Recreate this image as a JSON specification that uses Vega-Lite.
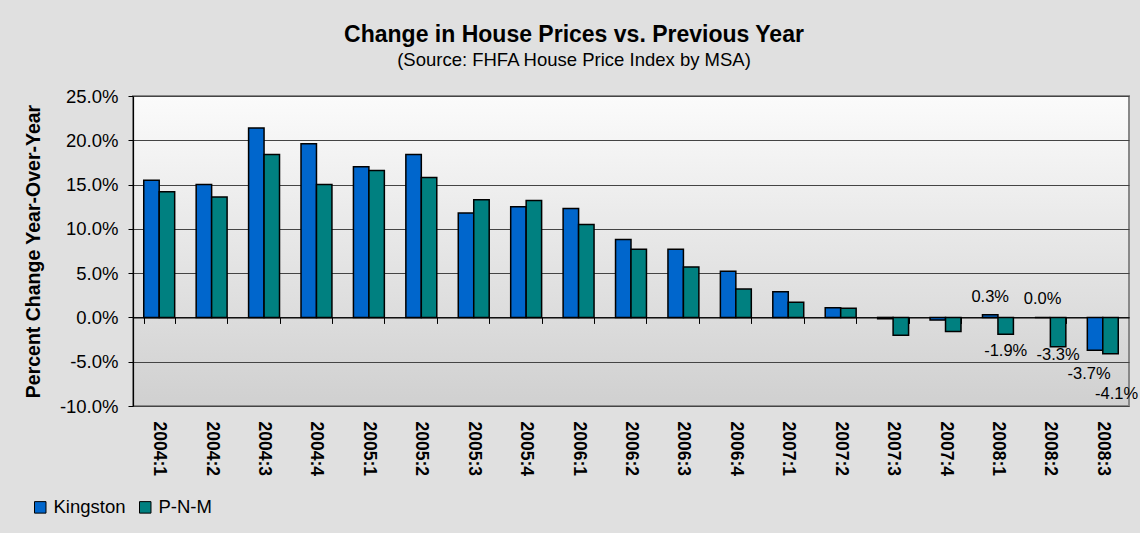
{
  "$schema": "https://vega.github.io/schema/vega-lite/v6.json",
  "width": 996,
  "height": 310,
  "autosize": "none",
  "padding": {"left": 133, "top": 96, "right": 11, "bottom": 127},
  "background": "#e0e0e0",
  "view": {
    "fill": {"gradient": "linear", "x1": 0, "y1": 0, "x2": 0, "y2": 1, "stops": [{"offset": 0, "color": "#fbfbfb"}, {"offset": 1, "color": "#d0d0d0"}]},
    "stroke": "#888888",
    "strokeWidth": 2
  },
  "title": {
    "text": "Change in House Prices vs. Previous Year",
    "subtitle": "(Source: FHFA House Price Index by MSA)",
    "anchor": "middle",
    "dx": -57,
    "font": "Liberation Sans",
    "fontSize": 23,
    "fontWeight": "bold",
    "color": "black",
    "subtitleFont": "Liberation Sans",
    "subtitleFontSize": 18.5,
    "subtitleColor": "black",
    "subtitlePadding": 4,
    "offset": 18
  },
  "data": {
    "values": [
      {"quarter": "2004:1", "series": "Kingston", "value": 0.155},
      {"quarter": "2004:2", "series": "Kingston", "value": 0.150},
      {"quarter": "2004:3", "series": "Kingston", "value": 0.214},
      {"quarter": "2004:4", "series": "Kingston", "value": 0.196},
      {"quarter": "2005:1", "series": "Kingston", "value": 0.170},
      {"quarter": "2005:2", "series": "Kingston", "value": 0.184},
      {"quarter": "2005:3", "series": "Kingston", "value": 0.118},
      {"quarter": "2005:4", "series": "Kingston", "value": 0.125},
      {"quarter": "2006:1", "series": "Kingston", "value": 0.123},
      {"quarter": "2006:2", "series": "Kingston", "value": 0.088},
      {"quarter": "2006:3", "series": "Kingston", "value": 0.077},
      {"quarter": "2006:4", "series": "Kingston", "value": 0.052},
      {"quarter": "2007:1", "series": "Kingston", "value": 0.029},
      {"quarter": "2007:2", "series": "Kingston", "value": 0.011},
      {"quarter": "2007:3", "series": "Kingston", "value": -0.0015},
      {"quarter": "2007:4", "series": "Kingston", "value": -0.003},
      {"quarter": "2008:1", "series": "Kingston", "value": 0.003},
      {"quarter": "2008:2", "series": "Kingston", "value": 0.0},
      {"quarter": "2008:3", "series": "Kingston", "value": -0.037},
      {"quarter": "2004:1", "series": "P-N-M", "value": 0.142},
      {"quarter": "2004:2", "series": "P-N-M", "value": 0.136},
      {"quarter": "2004:3", "series": "P-N-M", "value": 0.184},
      {"quarter": "2004:4", "series": "P-N-M", "value": 0.150},
      {"quarter": "2005:1", "series": "P-N-M", "value": 0.166},
      {"quarter": "2005:2", "series": "P-N-M", "value": 0.158},
      {"quarter": "2005:3", "series": "P-N-M", "value": 0.133},
      {"quarter": "2005:4", "series": "P-N-M", "value": 0.132},
      {"quarter": "2006:1", "series": "P-N-M", "value": 0.105},
      {"quarter": "2006:2", "series": "P-N-M", "value": 0.077},
      {"quarter": "2006:3", "series": "P-N-M", "value": 0.057},
      {"quarter": "2006:4", "series": "P-N-M", "value": 0.032},
      {"quarter": "2007:1", "series": "P-N-M", "value": 0.017},
      {"quarter": "2007:2", "series": "P-N-M", "value": 0.0105},
      {"quarter": "2007:3", "series": "P-N-M", "value": -0.020},
      {"quarter": "2007:4", "series": "P-N-M", "value": -0.016},
      {"quarter": "2008:1", "series": "P-N-M", "value": -0.019},
      {"quarter": "2008:2", "series": "P-N-M", "value": -0.033},
      {"quarter": "2008:3", "series": "P-N-M", "value": -0.041}
    ]
  },
  "encoding": {
    "x": {"field": "quarter", "type": "nominal", "sort": null, "scale": {"paddingInner": 0.41, "paddingOuter": 0.205}},
    "xOffset": {"field": "series", "type": "nominal", "sort": ["Kingston", "P-N-M"], "scale": {"paddingInner": 0, "paddingOuter": 0}},
    "y": {"field": "value", "type": "quantitative", "scale": {"domain": [-0.10, 0.25], "nice": false, "zero": false}}
  },
  "layer": [
    {
      "mark": {"type": "bar", "stroke": "black", "strokeWidth": 1.5},
      "encoding": {
        "x": {"field": "quarter", "type": "nominal", "sort": null,
          "axis": {"orient": "bottom", "title": null, "domain": false, "ticks": false, "grid": false,
            "labelAngle": 90, "labelAlign": "left", "labelBaseline": "middle", "labelPadding": 15,
            "labelFont": "Liberation Sans", "labelFontSize": 17.5, "labelFontWeight": "bold", "labelColor": "black"}},
        "y": {"field": "value", "type": "quantitative",
          "axis": {"title": "Percent Change Year-Over-Year", "values": [-0.10, -0.05, 0, 0.05, 0.10, 0.15, 0.20, 0.25],
            "format": ".1%", "labelFont": "Liberation Sans", "labelFontSize": 18.5, "labelColor": "black", "labelPadding": 10,
            "tickSize": 5, "tickColor": "black", "domainColor": "black", "domainWidth": 1.2,
            "grid": true, "gridColor": "#444444", "gridWidth": 1,
            "titleFont": "Liberation Sans", "titleFontSize": 19.5, "titleFontWeight": "bold", "titleColor": "black", "titlePadding": 16}},
        "color": {"field": "series", "type": "nominal", "sort": ["Kingston", "P-N-M"],
          "scale": {"domain": ["Kingston", "P-N-M"], "range": ["#0066CC", "#008080"]},
          "legend": {"orient": "none", "legendX": -102, "legendY": 402, "direction": "horizontal", "title": null,
            "symbolType": "square", "symbolSize": 132, "symbolStrokeColor": "black", "symbolStrokeWidth": 1, "symbolOpacity": 1,
            "labelFont": "Liberation Sans", "labelFontSize": 18.5, "labelColor": "black", "labelOffset": 4, "columnPadding": 10}}
      }
    },
    {
      "transform": [{"filter": "datum.series == 'Kingston' && (datum.quarter == '2008:1' || datum.quarter == '2008:2')"}],
      "mark": {"type": "text", "font": "Liberation Sans", "fontSize": 16.5, "color": "black", "baseline": "middle", "dy": -18},
      "encoding": {
        "x": {"field": "quarter", "type": "nominal", "sort": null,
          "axis": {"orient": "bottom", "offset": -88.57, "title": null, "labels": false, "grid": false,
            "domain": true, "domainColor": "black", "domainWidth": 1.2, "ticks": true, "tickBand": "extent", "tickSize": 6, "tickColor": "black"}},
        "text": {"field": "value", "type": "quantitative", "format": ".1%"}
      }
    },
    {
      "transform": [{"filter": "datum.series == 'P-N-M' && datum.quarter == '2008:1'"}],
      "mark": {"type": "text", "font": "Liberation Sans", "fontSize": 16.5, "color": "black", "baseline": "middle", "dy": 17},
      "encoding": {
        "x": {"field": "quarter", "type": "nominal", "sort": null, "axis": null},
        "text": {"field": "value", "type": "quantitative", "format": ".1%"}
      }
    },
    {
      "transform": [{"filter": "datum.series == 'P-N-M' && datum.quarter == '2008:2'"}],
      "mark": {"type": "text", "font": "Liberation Sans", "fontSize": 16.5, "color": "black", "baseline": "middle", "dy": 8},
      "encoding": {
        "x": {"field": "quarter", "type": "nominal", "sort": null, "axis": null},
        "text": {"field": "value", "type": "quantitative", "format": ".1%"}
      }
    },
    {
      "transform": [{"filter": "datum.series == 'Kingston' && datum.quarter == '2008:3'"}],
      "mark": {"type": "text", "font": "Liberation Sans", "fontSize": 16.5, "color": "black", "baseline": "middle", "dy": 24, "dx": -6},
      "encoding": {
        "x": {"field": "quarter", "type": "nominal", "sort": null, "axis": null},
        "text": {"field": "value", "type": "quantitative", "format": ".1%"}
      }
    },
    {
      "transform": [{"filter": "datum.series == 'P-N-M' && datum.quarter == '2008:3'"}],
      "mark": {"type": "text", "font": "Liberation Sans", "fontSize": 16.5, "color": "black", "baseline": "middle", "dy": 40, "dx": 6},
      "encoding": {
        "x": {"field": "quarter", "type": "nominal", "sort": null, "axis": null},
        "text": {"field": "value", "type": "quantitative", "format": ".1%"}
      }
    }
  ],
  "resolve": {"axis": {"x": "independent"}},
  "config": {
    "locale": {"number": {"decimal": ".", "thousands": ",", "grouping": [3], "currency": ["$", ""], "minus": "-"}},
    "font": "Liberation Sans"
  }
}
